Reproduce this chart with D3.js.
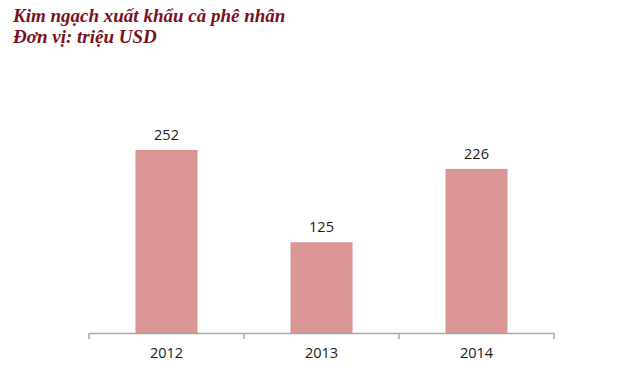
<!DOCTYPE html>
<html><head><meta charset="utf-8">
<script src="https://cdn.jsdelivr.net/npm/d3@7"></script>
<style>body{margin:0;background:#fff;}svg{display:block;}</style>
</head><body>
<svg id="c" width="640" height="392"></svg>
<script>
const categories = ["2012", "2013", "2014"];
const values = [252, 125, 226];
const titleLines = ["Kim ngạch xuất khẩu cà phê nhân", "Đơn vị: triệu USD"];

const svg = d3.select("#c");
svg.append("rect").attr("width",640).attr("height",392).attr("fill","#fff");

const x = d3.scaleBand().domain(categories).range([89, 554]).paddingInner(0.6).paddingOuter(0.3);
const y = d3.scaleLinear().domain([0, 252]).range([333, 150]);

svg.selectAll("text.title").data(titleLines).enter().append("text")
  .attr("x", 13).attr("y", (d,i) => 22 + i*21)
  .attr("font-family", "'Liberation Serif', 'Times New Roman', serif")
  .attr("font-weight", "bold").attr("font-style", "italic")
  .attr("font-size", 19).attr("fill", "#7a1020").text(d => d);

svg.selectAll("rect.bar").data(values).enter().append("rect")
  .attr("x", (d,i) => x(categories[i]))
  .attr("width", x.bandwidth())
  .attr("y", d => y(d))
  .attr("height", d => y(0) - y(d))
  .attr("fill", "#d99694");

svg.selectAll("text.val").data(values).enter().append("text")
  .attr("x", (d,i) => x(categories[i]) + x.bandwidth()/2)
  .attr("y", d => y(d) - 10)
  .attr("text-anchor", "middle")
  .attr("font-family", "'Open Sans', 'Liberation Sans', sans-serif")
  .attr("font-size", 14.5).attr("fill", "#1a1a1a").text(d => d);

const xEdge = d3.scaleBand().domain(categories).range([89, 554]);
const axis = d3.axisBottom(xEdge).tickSize(0).tickSizeOuter(0);
const g = svg.append("g").attr("transform", "translate(0,333)").call(axis);
g.select(".domain").attr("stroke", "#a6a6a6").attr("stroke-width", 1.5);
g.selectAll(".tick text").attr("dy", 0).attr("y", 25)
  .attr("font-family", "'Open Sans', 'Liberation Sans', sans-serif")
  .attr("font-size", 14.5).attr("fill", "#1a1a1a");
const edges = categories.map(c => xEdge(c)).concat([xEdge.range()[1]]);
svg.selectAll("line.edge").data(edges).enter().append("line")
  .attr("x1", d => d).attr("x2", d => d).attr("y1", 333).attr("y2", 339)
  .attr("stroke", "#a6a6a6").attr("stroke-width", 1.5);
</script>
</body></html>
